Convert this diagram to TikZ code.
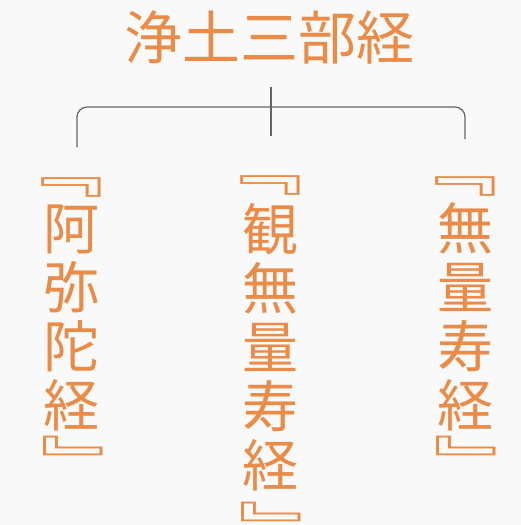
\documentclass[tikz,border=0pt]{standalone}
\usepackage{fontspec}
\newfontfamily\cjk{Noto Sans CJK JP}
\definecolor{sutra}{RGB}{234,140,72}
\definecolor{bgc}{RGB}{249,249,249}
\definecolor{linec}{RGB}{100,100,100}
\newcommand{\qopenmark}{\makebox[0pt]{\smash{\raisebox{-6pt}{\scalebox{1.6}[1]{﹃}}}}}
\newcommand{\qclosemark}{\makebox[0pt]{\smash{\raisebox{-38pt}{\scalebox{1.6}[1]{﹄}}}}}
\begin{document}
\begin{tikzpicture}[x=1pt,y=-1pt,
  titlestyle/.style={text=sutra,font=\cjk\fontsize{58}{58}\selectfont,inner sep=0pt},
  colstyle/.style={text=sutra,font=\cjk\fontsize{56}{59}\selectfont,align=center,inner sep=0pt},
  quostyle/.style={text=sutra,font=\cjk\fontsize{56}{56}\selectfont,inner sep=0pt,text height=0pt,text depth=0pt},
  conn/.style={draw=linec,line width=1.2pt,rounded corners=10pt}]
\fill[bgc] (0,0) rectangle (521,525);
\useasboundingbox (0,0) rectangle (521,525);
\node[titlestyle] (title) at (269,37) {浄土三部経};
\node[colstyle] (amida) at (71,318) {阿\\弥\\陀\\経};
\node[colstyle] (kan) at (270,347) {観\\無\\量\\寿\\経};
\node[colstyle] (muryo) at (465,317) {無\\量\\寿\\経};
\node[quostyle] (amidaL) at (59,186) {\qopenmark};
\node[quostyle] (amidaR) at (85,445) {\qclosemark};
\node[quostyle] (kanL) at (258,184) {\qopenmark};
\node[quostyle] (kanR) at (283,511) {\qclosemark};
\node[quostyle] (muryoL) at (453,185) {\qopenmark};
\node[quostyle] (muryoR) at (478,445) {\qclosemark};
\coordinate (top) at (271,87);
\coordinate (mid) at (271,136);
\coordinate (hub) at (271,107);
\coordinate (lft) at (77,147);
\coordinate (rgt) at (465,139);
\draw[conn] (lft) |- (hub) -| (rgt);
\draw[conn] (top) -- (mid);
\end{tikzpicture}
\end{document}
